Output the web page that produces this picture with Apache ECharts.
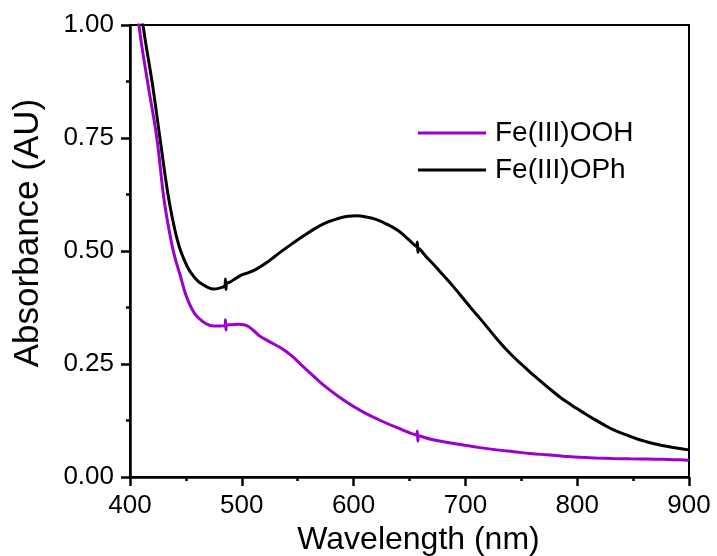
<!DOCTYPE html>
<html><head><meta charset="utf-8">
<script src="https://cdn.jsdelivr.net/npm/echarts@6/dist/echarts.min.js"></script>
<style>html,body{margin:0;padding:0;background:#fff}#c{width:717px;height:556px}</style>
</head><body><div id="c"></div>
<script>
// Fe(III)OOH spectrum [wavelength nm, absorbance AU]
var ooh = [
 [404,1.12],[408,1.0],[416,0.87],[424,0.75],[430.5,0.613],[437,0.52],[441,0.478],[444.7,0.448],
 [449,0.41],[453.7,0.380],[458,0.361],[462.6,0.349],[468,0.339],[474.5,0.334],[480,0.334],
 [485,0.335],[485.4,0.348],[485.8,0.325],[486.2,0.336],[491,0.337],[497,0.338],[502,0.337],
 [506,0.333],[511,0.323],[516,0.312],[525,0.299],[534,0.287],[540,0.277],[546,0.265],
 [552,0.251],[558,0.237],[570,0.21],[580,0.19],[590,0.172],[600,0.156],[610,0.142],
 [624,0.125],[640,0.108],[656.5,0.093],[657,0.101],[657.5,0.079],[658,0.091],[670,0.083],
 [683,0.077],[700,0.07],[713,0.065],[728,0.06],[743,0.056],[758,0.052],[773,0.049],
 [788,0.046],[802,0.0435],[817,0.042],[832,0.041],[847,0.0403],[862,0.0398],[877,0.039],
 [892,0.038],[900,0.037]
];
// Fe(III)OPh spectrum [wavelength nm, absorbance AU]
var oph = [
 [407,1.1],[411.6,1.0],[420,0.87],[426.8,0.75],[434,0.625],[440,0.548],[444,0.51],[447.7,0.485],
 [452,0.462],[456.6,0.445],[461,0.433],[465.6,0.425],[470,0.419],[474.5,0.416],[480,0.418],
 [485,0.424],[485.4,0.438],[485.8,0.415],[486.2,0.427],[490,0.432],[495,0.44],[500,0.447],
 [506,0.452],[513,0.46],[522,0.474],[530,0.489],[537,0.502],[545,0.516],[555,0.533],[565,0.549],
 [575,0.562],[585,0.571],[595,0.577],[603,0.578],[612,0.575],[620,0.57],[630,0.559],[640,0.545],
 [648,0.528],[656.5,0.51],[657,0.52],[657.5,0.497],[658,0.506],[665,0.487],[672,0.469],
 [680,0.447],[690,0.419],[698,0.395],[705,0.374],[713,0.351],[720,0.33],[728,0.306],[737,0.281],
 [745,0.261],[753,0.243],[762,0.223],[773,0.2],[785,0.176],[795,0.159],[802,0.148],[815,0.128],
 [825,0.114],[832,0.105],[845,0.092],[855,0.083],[862,0.078],[872,0.072],[880,0.068],
 [892,0.063],[900,0.06]
];
var seriesNames = ['Fe(III)OOH','Fe(III)OPh'];
var xTicks = {min:400, max:900, step:100};
var yTicks = {min:0, max:1, step:0.25};

var FONT = "'Liberation Sans', Arial, sans-serif";
var chart = echarts.init(document.getElementById('c'), null, {renderer:'canvas'});
chart.setOption({
  animation:false,
  backgroundColor:'#fff',
  grid:{left:130,right:28,top:25,bottom:79,show:true,borderColor:'#000',borderWidth:2,backgroundColor:'transparent',
        containLabel:false,outerBoundsMode:'none'},
  legend:{
    orient:'vertical', left:418, top:119, padding:0, itemGap:9,
    itemWidth:68, itemHeight:3, icon:'rect',
    textStyle:{fontFamily:FONT,fontSize:28,color:'#000',padding:[0,0,0,4],lineHeight:28},
    data:seriesNames
  },
  xAxis:{
    type:'value', min:xTicks.min, max:xTicks.max, interval:xTicks.step,
    name:'Wavelength (nm)', nameLocation:'middle', nameGap:40,
    nameTextStyle:{fontFamily:FONT,fontSize:32,color:'#000',padding:[0,0,0,18]},
    axisLine:{show:true,onZero:false,lineStyle:{color:'#000',width:2.5}},
    axisTick:{show:true,inside:false,length:9,lineStyle:{color:'#000',width:2.5}},
    minorTick:{show:true,splitNumber:2,length:4,lineStyle:{color:'#000',width:2.5}},
    axisLabel:{fontFamily:FONT,fontSize:26,color:'#000',margin:16},
    splitLine:{show:false}
  },
  yAxis:{
    type:'value', min:yTicks.min, max:yTicks.max, interval:yTicks.step,
    name:'Absorbance (AU)', nameLocation:'middle', nameGap:84,
    nameTextStyle:{fontFamily:FONT,fontSize:35,color:'#000',padding:[0,0,0,36]},
    axisLine:{show:true,onZero:false,lineStyle:{color:'#000',width:2.5}},
    axisTick:{show:true,inside:false,length:9,lineStyle:{color:'#000',width:2.5}},
    minorTick:{show:true,splitNumber:2,length:4,lineStyle:{color:'#000',width:2.5}},
    axisLabel:{fontFamily:FONT,fontSize:26,color:'#000',margin:16,formatter:function(v){return v.toFixed(2);}},
    splitLine:{show:false}
  },
  series:[
    {name:seriesNames[0],type:'line',data:ooh,showSymbol:false,symbol:'none',smooth:0.4,clip:true,
     lineStyle:{color:'#9B00CC',width:3},itemStyle:{color:'#9B00CC'},z:3},
    {name:seriesNames[1],type:'line',data:oph,showSymbol:false,symbol:'none',smooth:0.4,clip:true,
     lineStyle:{color:'#000',width:3},itemStyle:{color:'#000'},z:2}
  ]
});
</script></body></html>
